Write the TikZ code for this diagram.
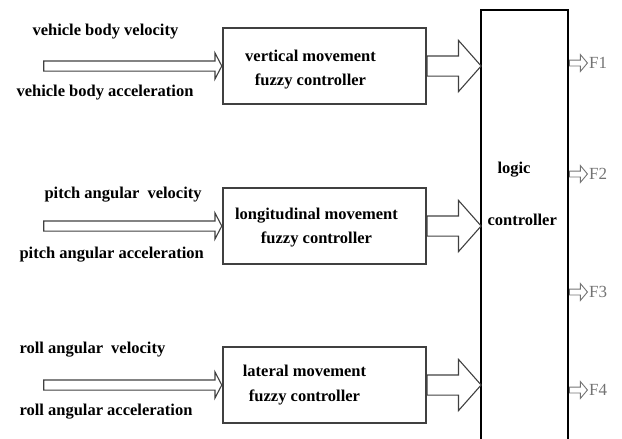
\documentclass[tikz,border=0pt]{standalone}
\usepackage{fontspec}
\setmainfont{Liberation Serif}
\usepackage{tikz}
\usetikzlibrary{shapes.arrows}
\usetikzlibrary{positioning}
\usetikzlibrary{calc}

\begin{document}
\begin{tikzpicture}[%
x=1pt, y=-1pt,
every node/.style={font=\fontsize{16.5}{19}\selectfont\bfseries},
fuzzybox/.style={draw=black!75, line width=1.2pt, minimum width=203pt, minimum height=76pt, inner sep=0pt},
inarrow/.style={single arrow, draw=black!75, line width=1.1pt, inner xsep=0pt, inner ysep=4.5pt, single arrow head extend=8pt, single arrow tip angle=125, minimum height=178pt},
bigarrow/.style={single arrow, draw=black!75, line width=1.1pt, inner xsep=0pt, inner ysep=9.5pt, single arrow head extend=15.5pt, single arrow tip angle=97, minimum height=54pt},
outarrow/.style={single arrow, draw=black!55, line width=0.9pt, inner xsep=0pt, inner ysep=2.5pt, single arrow head extend=5.5pt, single arrow tip angle=100, minimum height=18pt},
outlabel/.style={font=\fontsize{17}{20}\selectfont, text=black!55, anchor=west, inner sep=1pt}
]
\useasboundingbox (0,0) rectangle (622,439);
%\draw[help lines] (0,0) grid[step=50] (622,439);
\node[draw, line width=2pt, minimum width=87pt, minimum height=442pt, inner sep=0pt, anchor=north west] (logic) at (480,9) {};
\node[anchor=west] (logictop) at (494,170) {logic};
\node[anchor=west] (logicbot) at (484,220) {controller};

\node[fuzzybox, label={[align=center, xshift=-14pt, yshift=-4pt]center:vertical movement\\[5pt]fuzzy controller}] (vert) at (324.5,66) {};
\node[fuzzybox, label={[align=center, xshift=-8pt, yshift=-2pt]center:longitudinal movement\\[5pt]fuzzy controller}] (longi) at (324.5,226) {};
\node[fuzzybox, label={[align=center, xshift=-20pt]center:lateral movement\\[6pt]fuzzy controller}] (lat) at (324.5,385) {};

\node[anchor=west] (vel1) at (29,32) {vehicle body velocity};
\node[anchor=west] (acc1) at (13,93) {vehicle body acceleration};
\node[anchor=west] (vel2) at (41,195) {pitch angular\hspace{4pt} velocity};
\node[anchor=west] (acc2) at (16,255) {pitch angular acceleration};
\node[anchor=west] (vel3) at (16,350) {roll angular\hspace{4pt} velocity};
\node[anchor=west] (acc3) at (16,412) {roll angular acceleration};

\node[inarrow, anchor=tip] (in1) at (vert.west) {};
\node[inarrow, anchor=tip] (in2) at (longi.west) {};
\node[inarrow, anchor=tip] (in3) at (lat.west) {};

\node[bigarrow, anchor=tail] (mid1) at (vert.east) {};
\node[bigarrow, anchor=tail] (mid2) at (longi.east) {};
\node[bigarrow, anchor=tail] (mid3) at (lat.east) {};

\node[outarrow, anchor=tail] (out1) at (logic.east |- 0,63) {};
\node[outarrow, anchor=tail] (out2) at (logic.east |- 0,174) {};
\node[outarrow, anchor=tail] (out3) at (logic.east |- 0,292) {};
\node[outarrow, anchor=tail] (out4) at (logic.east |- 0,390) {};
\node[outlabel] (f1) at (out1.tip) {F1};
\node[outlabel] (f2) at (out2.tip) {F2};
\node[outlabel] (f3) at (out3.tip) {F3};
\node[outlabel] (f4) at (out4.tip) {F4};
\end{tikzpicture}
\end{document}
